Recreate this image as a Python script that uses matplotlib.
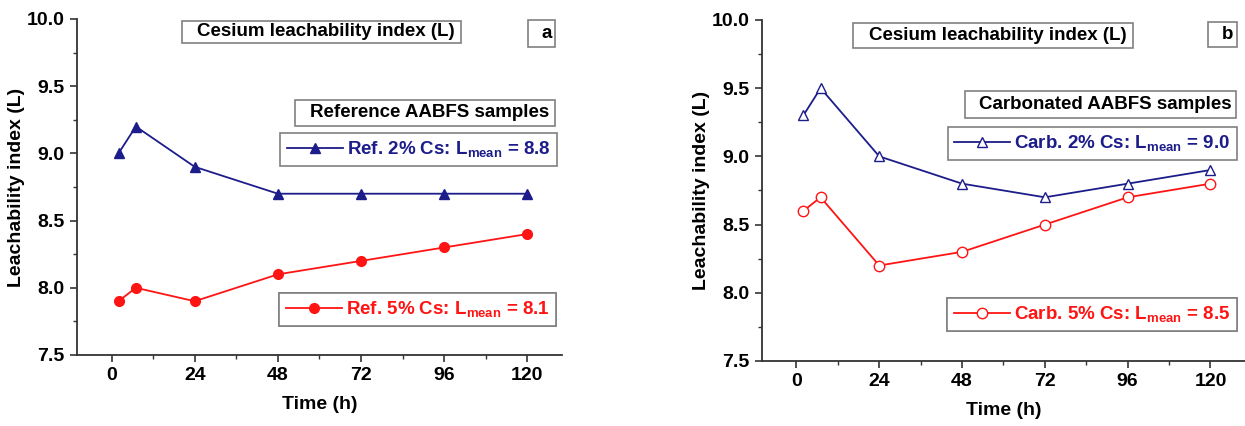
import matplotlib
matplotlib.use("Agg")
import matplotlib.pyplot as plt
from matplotlib.ticker import MultipleLocator
from matplotlib.patches import Rectangle

plt.rcParams['font.family'] = ['Liberation Sans', 'DejaVu Sans']
plt.rcParams['font.weight'] = 'bold'
plt.rcParams['mathtext.fontset'] = 'custom'
plt.rcParams['mathtext.rm'] = 'Liberation Sans:bold'
plt.rcParams['mathtext.bf'] = 'Liberation Sans:bold'

# --- Data (ANS 16.1 leaching intervals) ---
time_h = [2, 7, 24, 48, 72, 96, 120]

ref_2cs = [9.0, 9.2, 8.9, 8.7, 8.7, 8.7, 8.7]
ref_5cs = [7.9, 8.0, 7.9, 8.1, 8.2, 8.3, 8.4]
carb_2cs = [9.3, 9.5, 9.0, 8.8, 8.7, 8.8, 8.9]
carb_5cs = [8.6, 8.7, 8.2, 8.3, 8.5, 8.7, 8.8]

x_ticks = [0, 24, 48, 72, 96, 120]
y_ticks = [7.5, 8.0, 8.5, 9.0, 9.5, 10.0]

BLUE = '#1c1c8a'
RED = '#ff1414'
BOX_EDGE = '#808080'
FS = 13.5      # boxes / legends
FS_AX = 14     # ticks and axis labels

fig = plt.figure(figsize=(12.45, 4.26), dpi=100)
ax_a = fig.add_axes([0.0618, 0.1667, 0.3896, 0.7887])
ax_b = fig.add_axes([0.612, 0.1526, 0.388, 0.8005])


def boxed_text(ax, x0, y0, x1, y1, text, color='black', size=FS):
    # rectangle in axes fraction + centred label
    ax.add_patch(Rectangle((x0, y0), x1 - x0, y1 - y0, transform=ax.transAxes,
                           facecolor='white', edgecolor=BOX_EDGE, lw=1.2,
                           clip_on=False, zorder=4))
    ax.text((x0 + x1) / 2 + 0.01, (y0 + y1) / 2, text, transform=ax.transAxes,
            ha='center', va='center', fontsize=size, fontweight='bold',
            color=color, zorder=5)


def series_legend(ax, handle, label, color, anchor):
    leg = ax.legend([handle], [label], loc='upper right', bbox_to_anchor=anchor,
                    fontsize=FS, handlelength=3.0, handletextpad=0.2,
                    borderpad=0.35, borderaxespad=0, fancybox=False,
                    framealpha=1, edgecolor=BOX_EDGE, labelcolor=color)
    leg.get_frame().set_linewidth(1.2)
    ax.add_artist(leg)
    return leg


def style_axes(ax):
    ax.set_xlim(-10, 130)
    ax.set_ylim(7.5, 10.0)
    ax.set_xticks(x_ticks)
    ax.set_yticks(y_ticks)
    ax.set_yticklabels([f"{v:.1f}" for v in y_ticks])
    ax.xaxis.set_minor_locator(MultipleLocator(12))
    ax.yaxis.set_minor_locator(MultipleLocator(0.25))
    ax.spines['top'].set_visible(False)
    ax.spines['right'].set_visible(False)
    for s in ('left', 'bottom'):
        ax.spines[s].set_linewidth(1.3)
        ax.spines[s].set_color('#333333')
    ax.tick_params(which='major', direction='out', length=5, width=1.2,
                   labelsize=FS_AX, colors='#333333', labelcolor='black', pad=4)
    ax.tick_params(which='minor', direction='out', length=3, width=1.0,
                   colors='#333333')
    for lab in ax.get_xticklabels() + ax.get_yticklabels():
        lab.set_fontweight('bold')
    ax.set_xlabel("Time (h)", fontsize=FS_AX, fontweight='bold', labelpad=8)
    ax.set_ylabel("Leachability index (L)", fontsize=FS_AX, fontweight='bold')
    ax.yaxis.set_label_coords(-0.107, 0.5)


# --- Panel a: reference samples ---
style_axes(ax_a)
la_blue, = ax_a.plot(time_h, ref_2cs, color=BLUE, lw=1.3, marker='^',
                     ms=7, mfc=BLUE, mec=BLUE, clip_on=False, zorder=3)
la_red, = ax_a.plot(time_h, ref_5cs, color=RED, lw=1.3, marker='o',
                    ms=7, mfc=RED, mec=RED, clip_on=False, zorder=3)

boxed_text(ax_a, 0.216, 0.929, 0.792, 0.994, "Cesium leachability index (L)")
boxed_text(ax_a, 0.930, 0.917, 0.986, 0.997, "a")
boxed_text(ax_a, 0.449, 0.682, 0.986, 0.759, "Reference AABFS samples")
series_legend(ax_a, la_blue, r"Ref. 2% Cs: L$_{\mathbf{mean}}$ = 8.8", BLUE,
              (0.990, 0.661))
series_legend(ax_a, la_red, r"Ref. 5% Cs: L$_{\mathbf{mean}}$ = 8.1", RED,
              (0.988, 0.185))

# --- Panel b: carbonated samples ---
style_axes(ax_b)
lb_blue, = ax_b.plot(time_h, carb_2cs, color=BLUE, lw=1.3, marker='^',
                     ms=7.5, mfc='white', mec=BLUE, mew=1.0, clip_on=False,
                     zorder=3)
lb_red, = ax_b.plot(time_h, carb_5cs, color=RED, lw=1.3, marker='o',
                    ms=7.5, mfc='white', mec=RED, mew=1.0, clip_on=False,
                    zorder=3)

boxed_text(ax_b, 0.188, 0.918, 0.768, 0.991, "Cesium leachability index (L)")
boxed_text(ax_b, 0.923, 0.921, 0.983, 0.994, "b")
boxed_text(ax_b, 0.420, 0.713, 0.981, 0.792, "Carbonated AABFS samples")
series_legend(ax_b, lb_blue, r"Carb. 2% Cs: L$_{\mathbf{mean}}$ = 9.0", BLUE,
              (0.983, 0.686))
series_legend(ax_b, lb_red, r"Carb. 5% Cs: L$_{\mathbf{mean}}$ = 8.5", RED,
              (0.983, 0.185))

fig.savefig("out.png", dpi=100)
